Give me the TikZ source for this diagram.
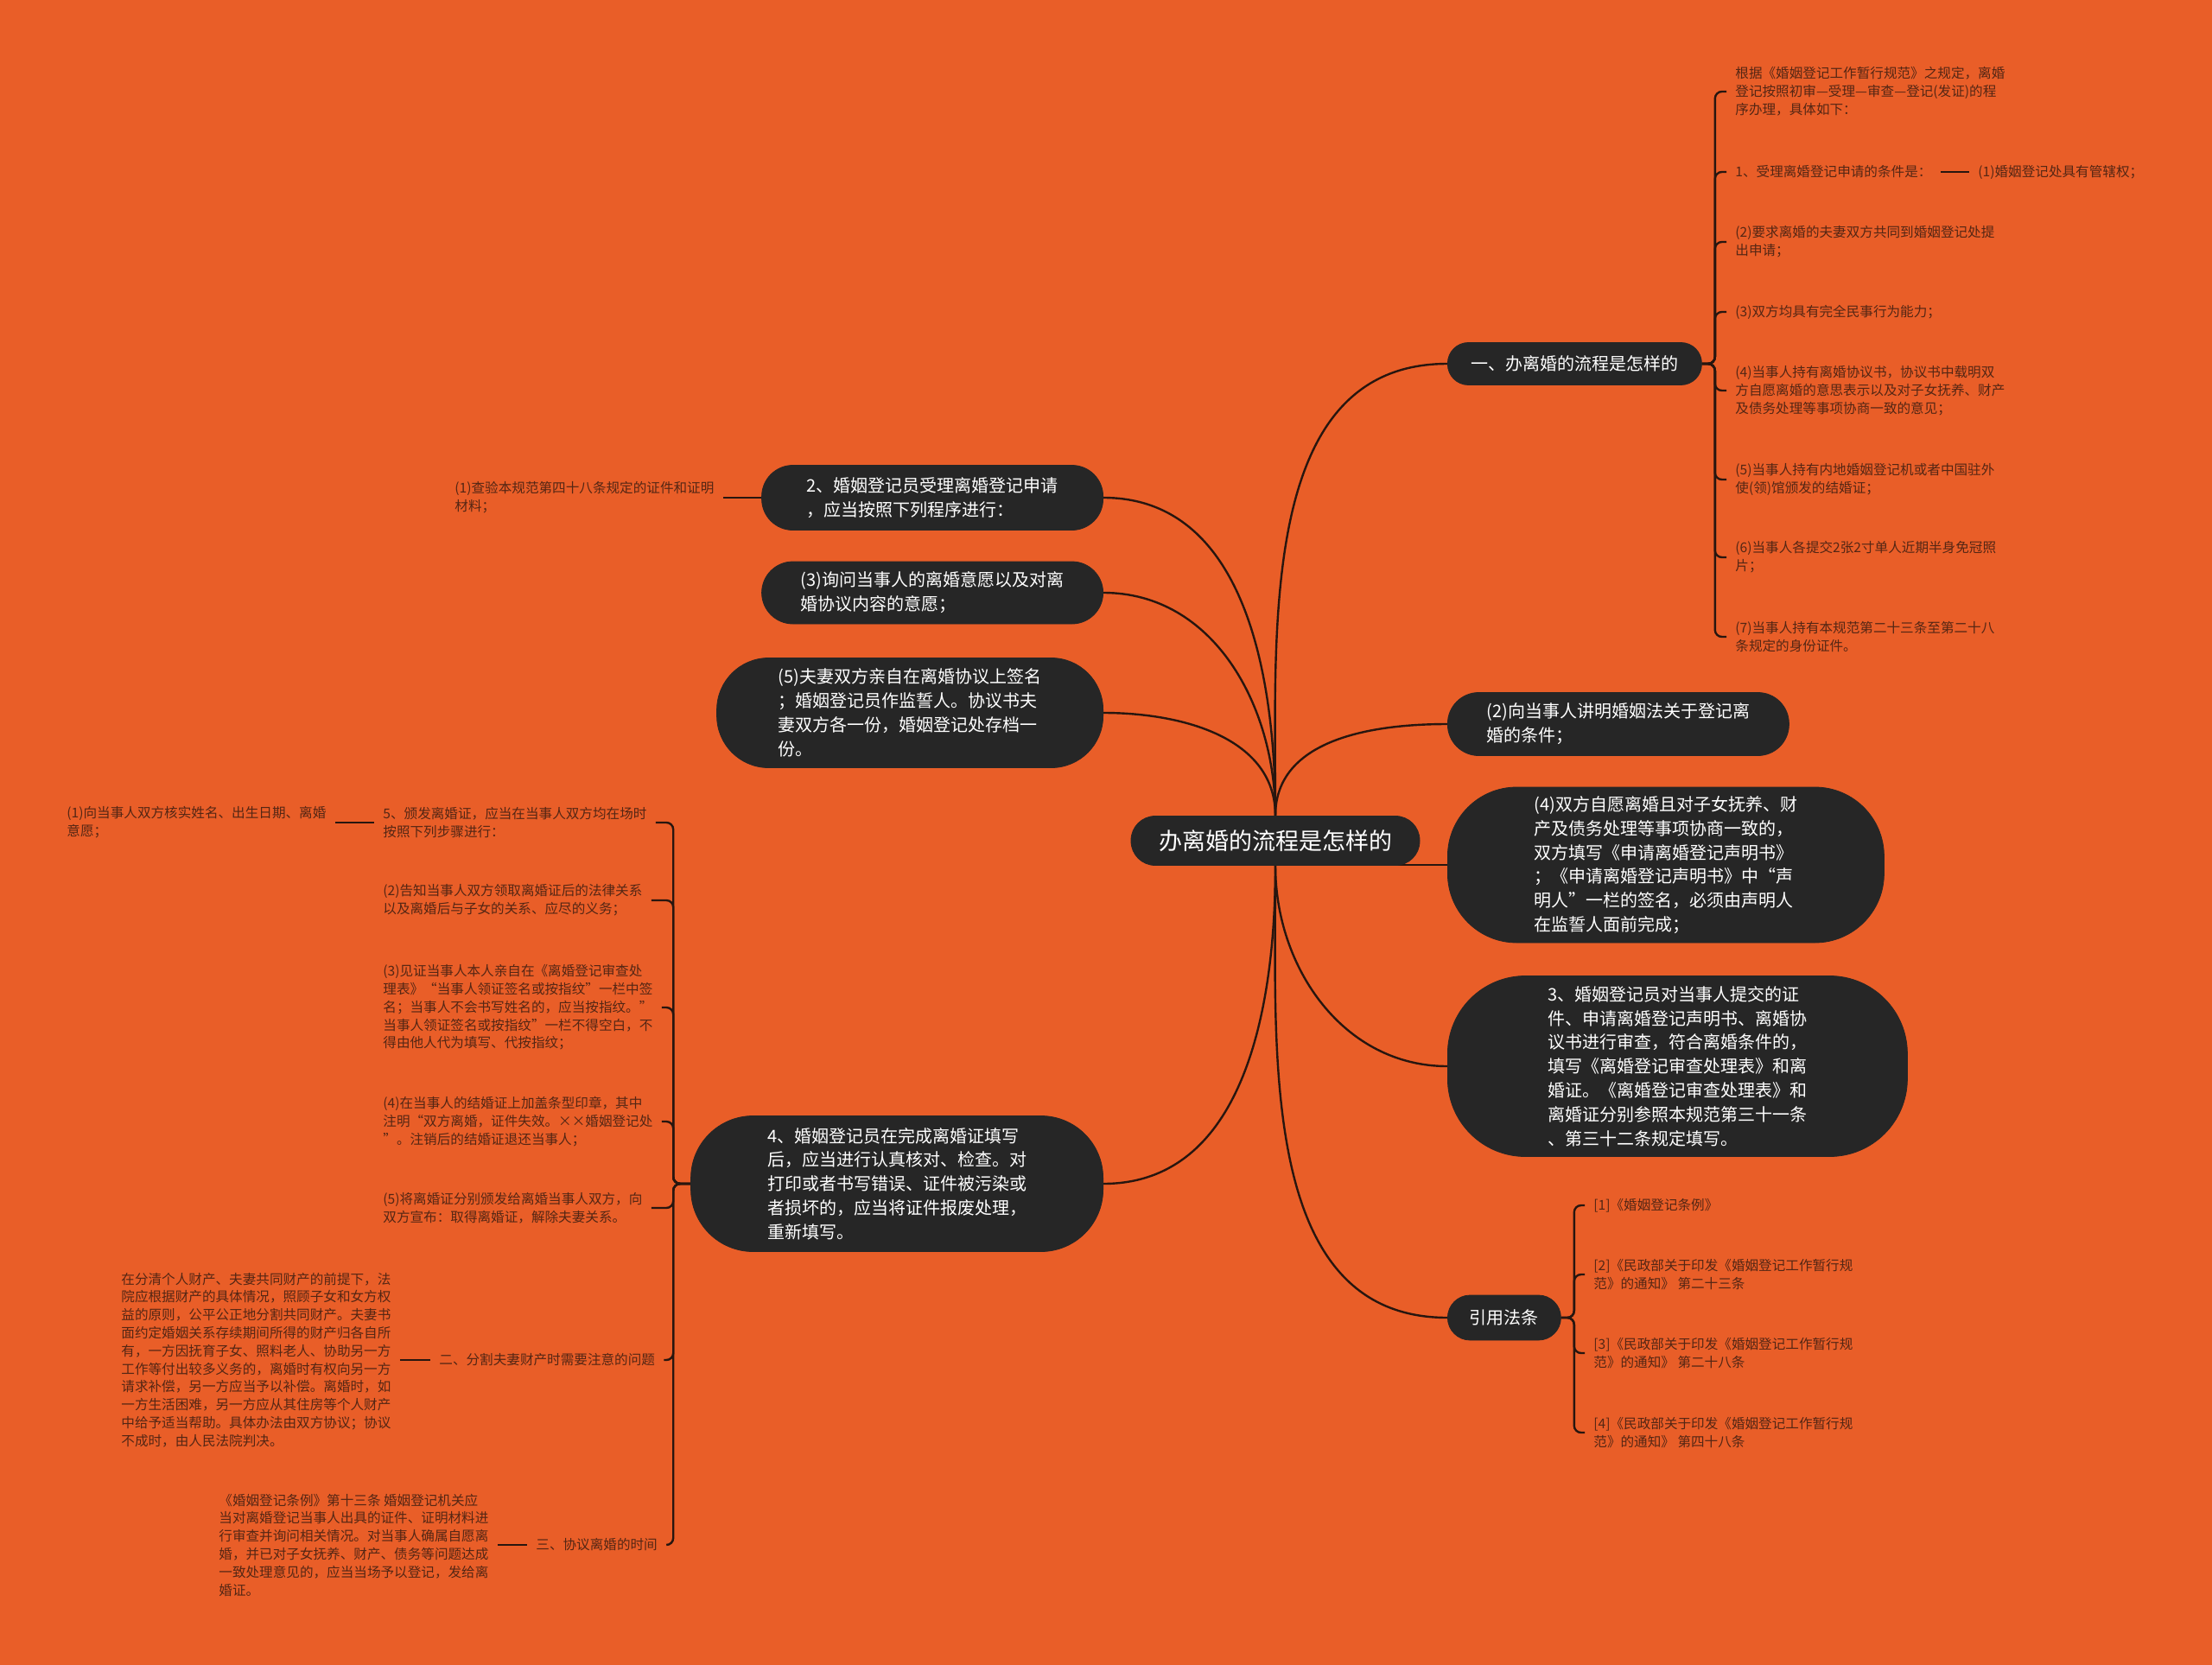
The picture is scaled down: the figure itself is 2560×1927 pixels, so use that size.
\documentclass[tikz,border=0pt]{standalone}
\usepackage{fontspec}
\setmainfont{Noto Sans CJK SC}
\definecolor{bgorange}{RGB}{233, 94, 40}
\definecolor{nodedark}{RGB}{38, 38, 38}
\definecolor{leafbrown}{RGB}{84, 38, 20}
\definecolor{linkdark}{RGB}{40, 22, 15}
\usepackage{tikz}
\usetikzlibrary{positioning}
\pgfdeclarelayer{paper}
\pgfdeclarelayer{links}
\pgfsetlayers{paper,links,main}

\begin{document}
\begin{tikzpicture}[x=0.5pt, y=-0.5pt,
  topic/.style={fill=nodedark, draw=nodedark, text=white, align=left, inner sep=0pt, font=\fontsize{10}{13.9}\selectfont},
  leaf/.style={text=leafbrown, align=left, inner xsep=5pt, inner ysep=1pt, font=\fontsize{7.8}{10.4}\selectfont},
  link/.style={draw=linkdark, line width=1.2pt},
  fork/.style={link, rounded corners=4pt}
]
  \useasboundingbox (0,0) rectangle (2560,1927);
  \begin{pgfonlayer}{paper}
    \fill[bgorange] (0,0) rectangle (2560,1927);
  \end{pgfonlayer}

  % root
  \node[topic, minimum width=167pt, minimum height=28.5pt, rounded corners=14pt, font=\fontsize{13.5}{16}\selectfont] (root) at (1476,973) {办离婚的流程是怎样的};

  % right side
  \node[topic, anchor=west, minimum width=147pt, minimum height=24.5pt, rounded corners=12pt] (sec1) at (1675,421) {一、办离婚的流程是怎样的};
  \node[topic, anchor=west, minimum width=197.5pt, minimum height=36.5pt, rounded corners=18pt] (talk2) at (1675,838) {(2)向当事人讲明婚姻法关于登记离\\婚的条件；};
  \node[topic, anchor=west, minimum width=252.5pt, minimum height=90pt, rounded corners=40pt] (agree4) at (1675,1001) {(4)双方自愿离婚且对子女抚养、财\\产及债务处理等事项协商一致的，\\双方填写《申请离婚登记声明书》\\；《申请离婚登记声明书》中“声\\明人”一栏的签名，必须由声明人\\在监誓人面前完成；};
  \node[topic, anchor=west, minimum width=266pt, minimum height=104.5pt, rounded corners=45pt] (check3) at (1675,1234) {3、婚姻登记员对当事人提交的证\\件、申请离婚登记声明书、离婚协\\议书进行审查，符合离婚条件的，\\填写《离婚登记审查处理表》和离\\婚证。《离婚登记审查处理表》和\\离婚证分别参照本规范第三十一条\\、第三十二条规定填写。};
  \node[topic, anchor=west, minimum width=65.5pt, minimum height=26pt, rounded corners=13pt] (cite) at (1675,1525) {引用法条};

  % left side
  \node[topic, anchor=east, minimum width=197.5pt, minimum height=37.5pt, rounded corners=18pt] (accept2) at (1277,576) {2、婚姻登记员受理离婚登记申请\\，应当按照下列程序进行：};
  \node[topic, anchor=east, minimum width=197.5pt, minimum height=36pt, rounded corners=18pt] (ask3) at (1277,686) {(3)询问当事人的离婚意愿以及对离\\婚协议内容的意愿；};
  \node[topic, anchor=east, minimum width=223.5pt, minimum height=63.5pt, rounded corners=30pt] (sign5) at (1277,825) {(5)夫妻双方亲自在离婚协议上签名\\；婚姻登记员作监誓人。协议书夫\\妻双方各一份，婚姻登记处存档一\\份。};
  \node[topic, anchor=east, minimum width=238.5pt, minimum height=78.5pt, rounded corners=36pt] (issue4) at (1277,1370) {4、婚姻登记员在完成离婚证填写\\后，应当进行认真核对、检查。对\\打印或者书写错误、证件被污染或\\者损坏的，应当将证件报废处理，\\重新填写。};

  % leaves of sec1
  \node[leaf, anchor=west] (rule0) at (1998,106) {根据《婚姻登记工作暂行规范》之规定，离婚\\登记按照初审—受理—审查—登记(发证)的程\\序办理，具体如下：};
  \node[leaf, anchor=west] (rule1) at (1998,199) {1、受理离婚登记申请的条件是：};
  \node[leaf, anchor=west] (rule1a) at (2279,199) {(1)婚姻登记处具有管辖权；};
  \node[leaf, anchor=west] (rule2) at (1998,280) {(2)要求离婚的夫妻双方共同到婚姻登记处提\\出申请；};
  \node[leaf, anchor=west] (rule3) at (1998,361) {(3)双方均具有完全民事行为能力；};
  \node[leaf, anchor=west] (rule4) at (1998,452) {(4)当事人持有离婚协议书，协议书中载明双\\方自愿离婚的意思表示以及对子女抚养、财产\\及债务处理等事项协商一致的意见；};
  \node[leaf, anchor=west] (rule5) at (1998,555) {(5)当事人持有内地婚姻登记机或者中国驻外\\使(领)馆颁发的结婚证；};
  \node[leaf, anchor=west] (rule6) at (1998,645) {(6)当事人各提交2张2寸单人近期半身免冠照\\片；};
  \node[leaf, anchor=west] (rule7) at (1998,737) {(7)当事人持有本规范第二十三条至第二十八\\条规定的身份证件。};

  % leaves of cite
  \node[leaf, anchor=west] (law1) at (1834,1395) {[1]《婚姻登记条例》};
  \node[leaf, anchor=west] (law2) at (1834,1475) {[2]《民政部关于印发《婚姻登记工作暂行规\\范》的通知》 第二十三条};
  \node[leaf, anchor=west] (law3) at (1834,1566) {[3]《民政部关于印发《婚姻登记工作暂行规\\范》的通知》 第二十八条};
  \node[leaf, anchor=west] (law4) at (1834,1658) {[4]《民政部关于印发《婚姻登记工作暂行规\\范》的通知》 第四十八条};

  % leaf of accept2
  \node[leaf, anchor=west] (verify1) at (516,576) {(1)查验本规范第四十八条规定的证件和证明\\材料；};

  % leaves of issue4
  \node[leaf, anchor=west] (give5) at (433,952) {5、颁发离婚证，应当在当事人双方均在场时\\按照下列步骤进行：};
  \node[leaf, anchor=west] (give5a) at (67,952) {(1)向当事人双方核实姓名、出生日期、离婚\\意愿；};
  \node[leaf, anchor=west] (tell2) at (433,1042) {(2)告知当事人双方领取离婚证后的法律关系\\以及离婚后与子女的关系、应尽的义务；};
  \node[leaf, anchor=west] (witness3) at (433,1166) {(3)见证当事人本人亲自在《离婚登记审查处\\理表》“当事人领证签名或按指纹”一栏中签\\名；当事人不会书写姓名的，应当按指纹。”\\当事人领证签名或按指纹”一栏不得空白，不\\得由他人代为填写、代按指纹；};
  \node[leaf, anchor=west] (stamp4) at (433,1298) {(4)在当事人的结婚证上加盖条型印章，其中\\注明“双方离婚，证件失效。××婚姻登记处\\”。注销后的结婚证退还当事人；};
  \node[leaf, anchor=west] (hand5) at (433,1398) {(5)将离婚证分别颁发给离婚当事人双方，向\\双方宣布：取得离婚证，解除夫妻关系。};
  \node[leaf, anchor=west] (split2) at (498,1574) {二、分割夫妻财产时需要注意的问题};
  \node[leaf, anchor=west] (split2a) at (130,1574) {在分清个人财产、夫妻共同财产的前提下，法\\院应根据财产的具体情况，照顾子女和女方权\\益的原则，公平公正地分割共同财产。夫妻书\\面约定婚姻关系存续期间所得的财产归各自所\\有，一方因抚育子女、照料老人、协助另一方\\工作等付出较多义务的，离婚时有权向另一方\\请求补偿，另一方应当予以补偿。离婚时，如\\一方生活困难，另一方应从其住房等个人财产\\中给予适当帮助。具体办法由双方协议；协议\\不成时，由人民法院判决。};
  \node[leaf, anchor=west] (time3) at (610,1788) {三、协议离婚的时间};
  \node[leaf, anchor=west] (time3a) at (243,1788) {《婚姻登记条例》第十三条 婚姻登记机关应\\当对离婚登记当事人出具的证件、证明材料进\\行审查并询问相关情况。对当事人确属自愿离\\婚，并已对子女抚养、财产、债务等问题达成\\一致处理意见的，应当当场予以登记，发给离\\婚证。};

  \begin{pgfonlayer}{links}
    % root to topics
    \draw[link] (root.north) to[out=90, in=180] (sec1.west);
    \draw[link] (root.north) to[out=90, in=180] (talk2.west);
    \draw[link] (root.center |- agree4.west) -- (agree4.west);
    \draw[link] (root.south) to[out=-90, in=180] (check3.west);
    \draw[link] (root.south) to[out=-90, in=180] (cite.west);
    \draw[link] (root.north) to[out=90, in=0] (accept2.east);
    \draw[link] (root.north) to[out=90, in=0] (ask3.east);
    \draw[link] (root.north) to[out=90, in=0] (sign5.east);
    \draw[link] (root.south) to[out=-90, in=0] (issue4.east);

    % forks
    \foreach \n in {rule0,rule1,rule2,rule3,rule4,rule5,rule6,rule7}
      \draw[fork] (sec1.east) -- ++(15,0) |- (\n.west);
    \foreach \n in {law1,law2,law3,law4}
      \draw[fork] (cite.east) -- ++(15,0) |- (\n.west);
    \foreach \n in {give5,tell2,witness3,stamp4,hand5,split2,time3}
      \draw[fork] (issue4.west) -- ++(-20,0) |- (\n.east);

    % single links
    \draw[link] (rule1.east) -- (rule1a.west);
    \draw[link] (verify1.east) -- (accept2.west);
    \draw[link] (give5a.east) -- (give5.west);
    \draw[link] (split2a.east) -- (split2.west);
    \draw[link] (time3a.east) -- (time3.west);
  \end{pgfonlayer}
\end{tikzpicture}
\end{document}
